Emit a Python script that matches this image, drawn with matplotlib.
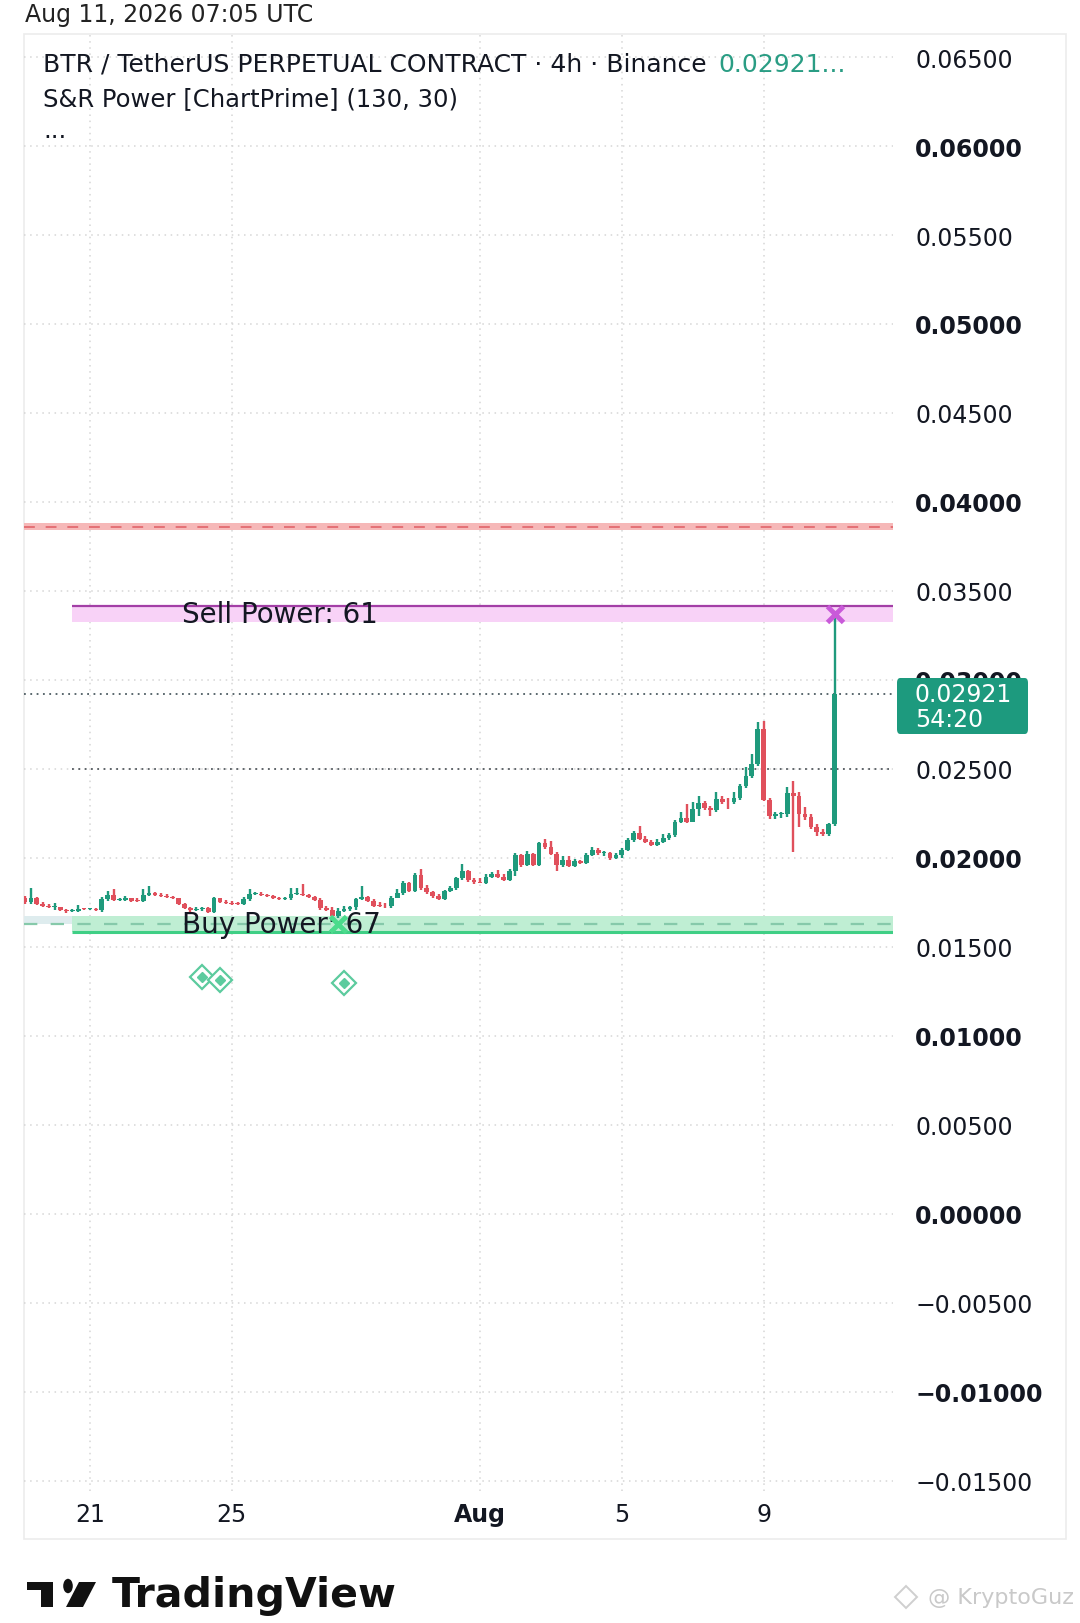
import matplotlib.pyplot as plt
import matplotlib.dates as mdates
from matplotlib.patches import FancyBboxPatch, Polygon, Circle, Rectangle
from matplotlib.transforms import blended_transform_factory
from datetime import datetime, timedelta

# BTR/USDT perp, 4h candles, Jul 19 04:00 -> Aug 11
first_open = 0.01774
closes = [
    0.01751, 0.01774, 0.01742, 0.01732, 0.01723, 0.01727, 0.01710, 0.01702, 0.01702, 0.01714,
    0.01712, 0.01714, 0.01710, 0.01770, 0.01792, 0.01766, 0.01766, 0.01774, 0.01761, 0.01759,
    0.01794, 0.01802, 0.01794, 0.01789, 0.01783, 0.01774, 0.01740, 0.01719, 0.01706, 0.01714,
    0.01717, 0.01699, 0.01774, 0.01755, 0.01747, 0.01744, 0.01740, 0.01770, 0.01798, 0.01800,
    0.01792, 0.01785, 0.01774, 0.01768, 0.01774, 0.01796, 0.01800, 0.01792, 0.01781, 0.01764,
    0.01717, 0.01709, 0.01672, 0.01702, 0.01713, 0.01722, 0.01769, 0.01782, 0.01760, 0.01732,
    0.01730, 0.01728, 0.01777, 0.01803, 0.01859, 0.01816, 0.01904, 0.01829, 0.01807, 0.01784,
    0.01769, 0.01814, 0.01833, 0.01889, 0.01926, 0.01874, 0.01863, 0.01859, 0.01896, 0.01908,
    0.01893, 0.01878, 0.01926, 0.02016, 0.01960, 0.02022, 0.01960, 0.02084, 0.02061, 0.02022,
    0.01960, 0.01990, 0.01956, 0.01983, 0.01971, 0.02016, 0.02046, 0.02026, 0.02028, 0.01998,
    0.02016, 0.02046, 0.02103, 0.02140, 0.02106, 0.02091, 0.02075, 0.02091, 0.02114, 0.02129,
    0.02204, 0.02226, 0.02204, 0.02275, 0.02309, 0.02282, 0.02267, 0.02331, 0.02316, 0.02312,
    0.02339, 0.02402, 0.02458, 0.02526, 0.02724, 0.02327, 0.02234, 0.02245, 0.02247, 0.02365,
    0.02346, 0.02247, 0.02228, 0.02172, 0.02144, 0.02134, 0.02189, 0.02921,
]
highs = [
    0.01789, 0.01830, 0.01779, 0.01751, 0.01742, 0.01746, 0.01727, 0.01714, 0.01714, 0.01736,
    0.01721, 0.01721, 0.01719, 0.01779, 0.01817, 0.01826, 0.01777, 0.01785, 0.01777, 0.01774,
    0.01826, 0.01845, 0.01811, 0.01802, 0.01796, 0.01789, 0.01777, 0.01747, 0.01727, 0.01723,
    0.01725, 0.01723, 0.01779, 0.01777, 0.01766, 0.01759, 0.01755, 0.01779, 0.01826, 0.01807,
    0.01807, 0.01798, 0.01792, 0.01779, 0.01781, 0.01830, 0.01830, 0.01854, 0.01800, 0.01789,
    0.01778, 0.01732, 0.01722, 0.01717, 0.01728, 0.01732, 0.01777, 0.01844, 0.01788, 0.01769,
    0.01750, 0.01747, 0.01784, 0.01825, 0.01872, 0.01866, 0.01915, 0.01938, 0.01848, 0.01816,
    0.01799, 0.01822, 0.01844, 0.01896, 0.01966, 0.01934, 0.01889, 0.01885, 0.01908, 0.01919,
    0.01930, 0.01908, 0.01938, 0.02028, 0.02022, 0.02041, 0.02028, 0.02091, 0.02106, 0.02097,
    0.02031, 0.02013, 0.02013, 0.01994, 0.01988, 0.02028, 0.02059, 0.02058, 0.02041, 0.02031,
    0.02028, 0.02054, 0.02110, 0.02153, 0.02181, 0.02121, 0.02099, 0.02106, 0.02134, 0.02140,
    0.02215, 0.02256, 0.02303, 0.02312, 0.02350, 0.02320, 0.02294, 0.02369, 0.02346, 0.02339,
    0.02369, 0.02415, 0.02509, 0.02584, 0.02762, 0.02771, 0.02339, 0.02256, 0.02256, 0.02397,
    0.02434, 0.02369, 0.02284, 0.02247, 0.02189, 0.02163, 0.02196, 0.03370,
]
lows = [
    0.01742, 0.01742, 0.01736, 0.01723, 0.01717, 0.01710, 0.01702, 0.01691, 0.01695, 0.01699,
    0.01706, 0.01706, 0.01702, 0.01699, 0.01761, 0.01761, 0.01759, 0.01759, 0.01755, 0.01751,
    0.01755, 0.01785, 0.01789, 0.01783, 0.01777, 0.01768, 0.01734, 0.01714, 0.01699, 0.01701,
    0.01704, 0.01691, 0.01691, 0.01747, 0.01740, 0.01738, 0.01734, 0.01736, 0.01761, 0.01790,
    0.01787, 0.01779, 0.01768, 0.01762, 0.01762, 0.01764, 0.01790, 0.01787, 0.01774, 0.01759,
    0.01709, 0.01702, 0.01660, 0.01665, 0.01694, 0.01704, 0.01709, 0.01763, 0.01752, 0.01724,
    0.01722, 0.01720, 0.01720, 0.01773, 0.01792, 0.01807, 0.01810, 0.01822, 0.01797, 0.01775,
    0.01764, 0.01764, 0.01807, 0.01822, 0.01878, 0.01866, 0.01855, 0.01857, 0.01852, 0.01885,
    0.01885, 0.01870, 0.01870, 0.01900, 0.01951, 0.01955, 0.01953, 0.01953, 0.02050, 0.02016,
    0.01928, 0.01950, 0.01947, 0.01950, 0.01964, 0.01968, 0.02009, 0.02016, 0.02009, 0.01990,
    0.01994, 0.01998, 0.02041, 0.02091, 0.02099, 0.02084, 0.02067, 0.02069, 0.02084, 0.02103,
    0.02118, 0.02196, 0.02196, 0.02200, 0.02234, 0.02267, 0.02237, 0.02260, 0.02305, 0.02275,
    0.02305, 0.02327, 0.02391, 0.02451, 0.02515, 0.02320, 0.02219, 0.02219, 0.02226, 0.02230,
    0.02031, 0.02172, 0.02215, 0.02163, 0.02125, 0.02121, 0.02125, 0.02180,
]

start = datetime(2026, 7, 19, 4)
times = [start + timedelta(hours=4 * i) for i in range(len(closes))]
opens = [first_open] + closes[:-1]

y_ticks = [0.065, 0.06, 0.055, 0.05, 0.045, 0.04, 0.035, 0.03, 0.025, 0.02, 0.015,
           0.01, 0.005, 0.0, -0.005, -0.01, -0.015]
y_labels = ["0.06500", "0.06000", "0.05500", "0.05000", "0.04500", "0.04000", "0.03500",
            "0.03000", "0.02500", "0.02000", "0.01500", "0.01000", "0.00500", "0.00000",
            "\u22120.00500", "\u22120.01000", "\u22120.01500"]
x_tick_dates = [datetime(2026, 7, 21), datetime(2026, 7, 25), datetime(2026, 8, 1),
                datetime(2026, 8, 5), datetime(2026, 8, 9)]
x_tick_labels = ["21", "25", "Aug", "5", "9"]

last_price = 0.02921
countdown = "54:20"
resist_lo, resist_hi = 0.0384, 0.0388
sell_lo, sell_hi = 0.03326, 0.03416
buy_lo, buy_hi = 0.01584, 0.01674
buy_mid = 0.0163
mid_level = 0.025
sell_power, buy_power = 61, 67
sell_hit = 0.0337
signal_idx = [30, 33, 54]
signal_y = [0.01331, 0.01315, 0.01298]
buy_hit_idx = 53
band_start_idx = 8

W, H = 1080, 1624
fig = plt.figure(figsize=(W / 100, H / 100), dpi=100)
fig.patch.set_facecolor('white')
plt.rcParams['font.family'] = ['DejaVu Sans']

def fx(px):
    return px / W

def fy(py):
    return 1 - py / H

# chart panel frame
fig.add_artist(FancyBboxPatch((fx(24), fy(1540)), fx(1066) - fx(24), fy(35) - fy(1540),
                              boxstyle="square,pad=0", transform=fig.transFigure,
                              fc='white', ec='#ececec', lw=1.2, zorder=0))

ax = fig.add_axes([fx(24), fy(1492), fx(893) - fx(24), fy(36) - fy(1492)])
ax.set_facecolor('none')
ax.set_zorder(1)

x = mdates.date2num(times)
step = 4 / 24
ax.set_xlim(x[0] - 0.17 * step, x[0] + 146.9 * step)
ax.set_ylim(-0.015562, 0.066236)
xl = ax.get_xlim()

for s in ax.spines.values():
    s.set_visible(False)

# grid
ax.set_yticks(y_ticks)
ax.set_yticklabels(y_labels)
ax.set_xticks(mdates.date2num(x_tick_dates))
ax.set_xticklabels(x_tick_labels)
ax.grid(True, color='#d6d6d6', linestyle=(0, (1, 3)), lw=1.1, zorder=0)
ax.yaxis.tick_right()
ax.tick_params(axis='y', length=0, pad=16, labelsize=17, labelcolor='#131722')
ax.tick_params(axis='x', length=0, pad=8, labelsize=17, labelcolor='#131722')
for i, lbl in enumerate(ax.get_yticklabels()):
    lbl.set_fontweight('bold' if i % 2 == 1 else 'normal')
for lbl in ax.get_xticklabels():
    if lbl.get_text() == "Aug":
        lbl.set_fontweight('bold')

# S&R Power zones
bx0 = x[band_start_idx]
ax.axhspan(resist_lo, resist_hi, color='#f6b8b8', lw=0, zorder=2)
ax.axhline((resist_lo + resist_hi) / 2, color='#e36a6f', ls=(0, (6, 6)), lw=1.3, zorder=3)
ax.fill_between([bx0, xl[1]], sell_lo, sell_hi, color='#f8d2f7', lw=0, zorder=2)
ax.hlines(sell_hi, bx0, xl[1], color='#a33fa6', lw=1.6, zorder=3)
ax.fill_between([xl[0], bx0], buy_mid, buy_hi, color='#deecee', lw=0, zorder=2)
ax.fill_between([bx0, xl[1]], buy_lo, buy_hi, color='#bfeed3', lw=0, zorder=2)
ax.axhline(buy_mid, color='#86c9aa', ls=(0, (6, 6)), lw=1.6, zorder=3)
ax.hlines(buy_lo, bx0, xl[1], color='#3fcf85', lw=2.2, zorder=3)

ax.hlines(mid_level, bx0, xl[1], color='#555b60', ls=(0, (1, 2.5)), lw=1.3, zorder=3)
ax.axhline(last_price, color='#4d5c62', ls=(0, (1, 2.5)), lw=1.3, zorder=3)

tr = blended_transform_factory(ax.transAxes, ax.transData)
ax.text(0.182, (sell_lo + sell_hi) / 2, f"Sell Power: {sell_power}", transform=tr,
        fontsize=20, color='#131722', va='center', ha='left', zorder=6)
ax.text(0.182, (buy_lo + buy_hi) / 2, f"Buy Power: {buy_power}", transform=tr,
        fontsize=20, color='#131722', va='center', ha='left', zorder=6)

# candles
up_col, dn_col = '#1f9a7c', '#e0505c'
cols = [up_col if c >= o else dn_col for o, c in zip(opens, closes)]
bottoms = [min(o, c) for o, c in zip(opens, closes)]
heights = [max(abs(c - o), 0.00005) for o, c in zip(opens, closes)]
ax.vlines(x, lows, highs, colors=cols, lw=1.7, zorder=4)
ax.bar(x, heights, step * 0.8, bottom=bottoms, color=cols, lw=0, zorder=5)

# signals
ax.plot(x[-1], sell_hit, marker='x', ms=12, mew=3.5, color='#c95ad9', zorder=7)
ax.plot(x[buy_hit_idx], buy_mid, marker='x', ms=11, mew=3.5, color='#4bdb8c', zorder=7)
sx = [x[i] for i in signal_idx]
ax.plot(sx, signal_y, ls='none', marker='D', ms=12, mfc='white', mec='#5ccb9e', mew=1.6, zorder=6)
ax.plot(sx, signal_y, ls='none', marker='D', ms=5, mfc='#5ccb9e', mec='#5ccb9e', zorder=7)

# last price tag
fig.add_artist(FancyBboxPatch((fx(897), fy(735)), fx(1028) - fx(897), fy(679) - fy(735),
                              boxstyle="round,pad=0,rounding_size=0.003", transform=fig.transFigure,
                              fc='#1d9a7e', ec='none', zorder=5))
fig.text(fx(915), fy(695), f"{last_price:.5f}", color='white', fontsize=17, va='center', zorder=6)
fig.text(fx(915), fy(720), countdown, color='white', fontsize=17, va='center', zorder=6)

# header
fig.text(fx(25), fy(15), "Aug 11, 2026 07:05 UTC", fontsize=17, color='#222222', va='center')
t1 = fig.text(fx(43), fy(65), "BTR / TetherUS PERPETUAL CONTRACT \u00b7 4h \u00b7 Binance",
              fontsize=18, color='#131722', va='center')
fig.canvas.draw()
bb = t1.get_window_extent()
fig.text(bb.x1 / W + fx(12), fy(65), f"{last_price:.5f}...", fontsize=18, color='#2a9d84', va='center')
fig.text(fx(43), fy(99), "S&R Power [ChartPrime] (130, 30)", fontsize=17.5, color='#131722', va='center')
fig.text(fx(43), fy(131), "...", fontsize=17.5, color='#131722', va='center')

# footer: TradingView logo + watermark
logo_col = '#111111'
fig.add_artist(Rectangle((fx(27), fy(1591)), fx(53) - fx(27), fy(1583) - fy(1591),
                         transform=fig.transFigure, fc=logo_col, ec='none'))
fig.add_artist(Rectangle((fx(41), fy(1608)), fx(53) - fx(41), fy(1583) - fy(1608),
                         transform=fig.transFigure, fc=logo_col, ec='none'))
fig.add_artist(Circle((fx(68), fy(1587)), 4.8 / W, transform=fig.transFigure, fc=logo_col, ec='none'))
fig.add_artist(Polygon([(fx(79), fy(1583)), (fx(96), fy(1583)), (fx(83), fy(1608)), (fx(66), fy(1608))],
                       closed=True, transform=fig.transFigure, fc=logo_col, ec='none'))
fig.text(fx(112), fy(1596), "TradingView", fontsize=29.5, fontweight='bold', color=logo_col, va='center')
fig.text(fx(928), fy(1598), "@ KryptoGuz", fontsize=16, color='#c9c9c9', va='center')
fig.add_artist(plt.Line2D([fx(906)], [fy(1598)], marker='D', ms=11, mfc='none', mec='#cfcfcf', mew=1.4,
                          transform=fig.transFigure))

fig.savefig("out.png", dpi=100, facecolor='white')
